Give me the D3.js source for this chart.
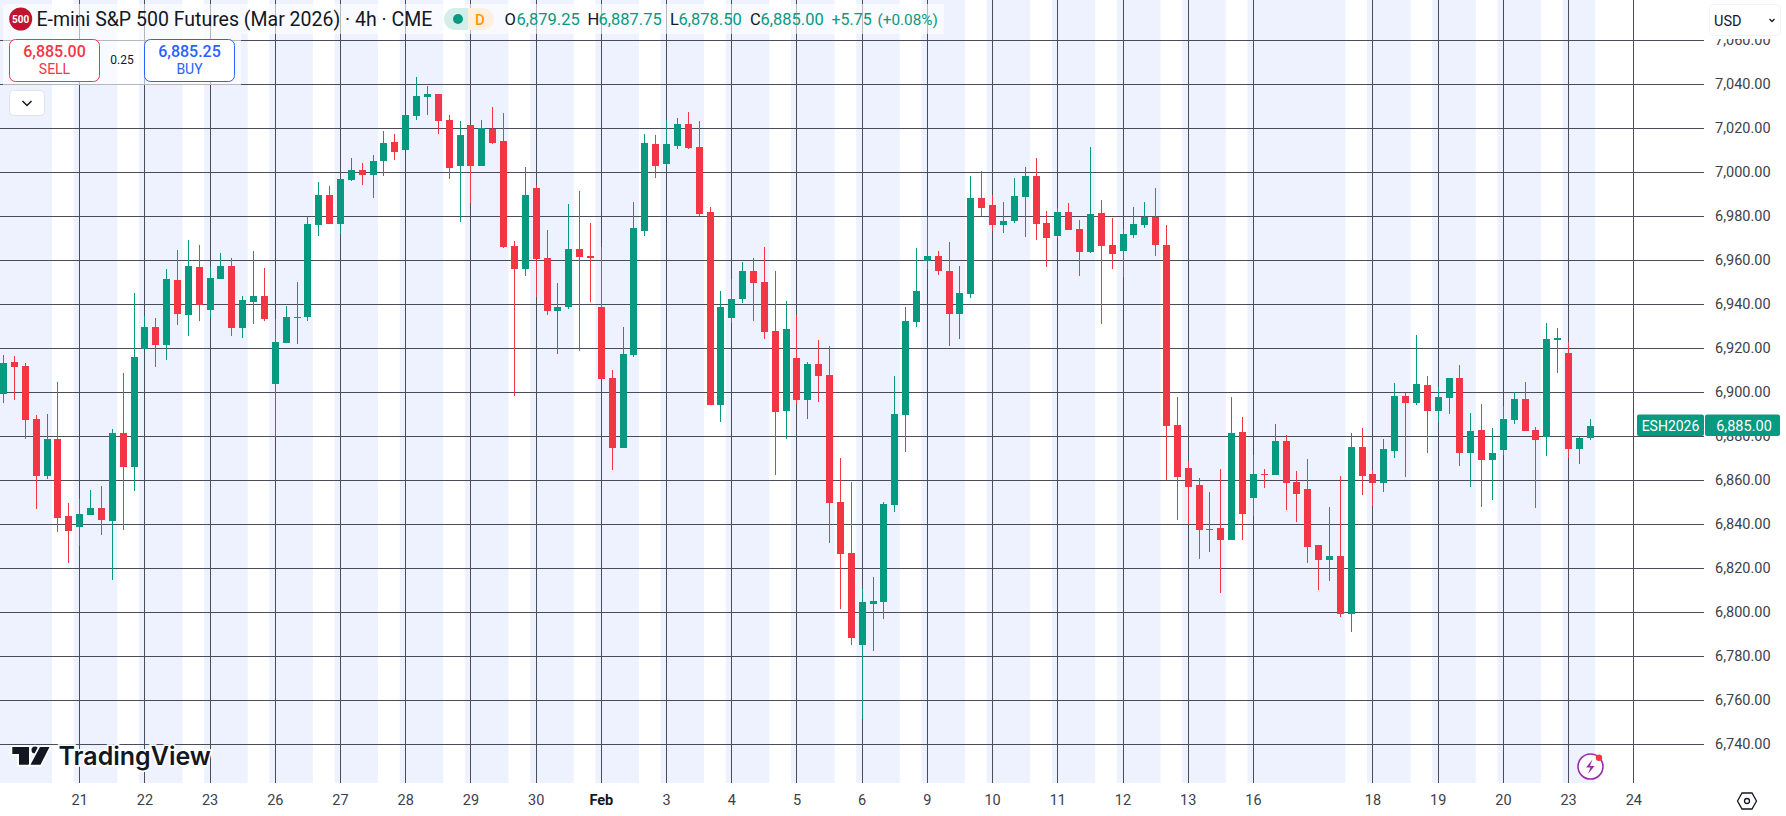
<!DOCTYPE html>
<html>
<head>
<meta charset="utf-8">
<title>ESH2026 4h</title>
<script src="https://cdn.jsdelivr.net/npm/d3@7"></script>
<style>
  html, body { margin: 0; padding: 0; background: #fff; }
  svg { display: block; font-family: Roboto, sans-serif; }
  .price-axis text, .time-axis text { font-size: 14.5px; fill: #3d404a; }
  .time-axis .month text { font-weight: 700; fill: #131722; }
</style>
</head>
<body>
<div id="viz"></div>
<script>
const WIDTH = 1786;
const HEIGHT = 816;

const opens = [6899.25,6913.75,6912,6888,6862,6878.75,6843.75,6838.75,6844.25,6847.5,6841.5,6881.5,6866,6919.75,6929.75,6921.5,6951,6935.25,6957,6937.5,6951.5,6957.5,6929.25,6941,6943.75,6903.75,6922.5,6934,6934.25,6976,6989.75,6976.5,6996.5,7001,6998.75,7005.25,7013.75,7010.25,7025.5,7034.25,7035.5,7023.75,7003,7021.5,7003,7019.75,7014.25,6966.5,6956,6993,6961,6937,6938.75,6965.25,6962,6938.75,6906.5,6874.75,6917,6973.25,7013,7003.75,7012,7022,7011.5,6982,6894.25,6933.75,6942.5,6955.25,6950.25,6928,6891.5,6915.5,6896.5,6913,6908,6850.25,6827,6785.25,6803.75,6804.75,6848.75,6889.75,6932,6959.75,6962,6955.25,6935.5,6944.75,6988.25,6985.25,6976,6977.75,6988.75,6998.25,6977,6971,6982,6974.25,6963.75,6981.5,6967,6964.25,6971.5,6976,6979.75,6967,6885.25,6865.5,6858,6837.5,6838.25,6833,6882,6852,6863,6862.5,6878,6859.25,6856,6830.5,6823.75,6825.5,6799.25,6875.25,6863,6858.75,6873.25,6898.25,6895.25,6903.25,6891.5,6897.5,6906.5,6872.5,6883,6869.25,6873.75,6887.5,6897,6883,6879.75,6923.75,6918,6874.25,6879.25];
const highs = [6917,6916.5,6913.25,6889.75,6890.25,6904.75,6849.75,6851.5,6855.5,6857.5,6883.25,6908.75,6945.25,6934.75,6933.75,6956.25,6964.75,6969.25,6967,6957,6963.25,6961,6943.75,6964.25,6956.5,6933.25,6939.25,6950.25,6980,6995.5,6993.75,6997,7006.5,7004.25,7007.75,7018.75,7017.5,7026,7043.25,7039.25,7035.5,7026,7023.25,7021.5,7023.75,7029.75,7027,6968.75,7002.5,6994.25,6973.75,6949.75,6985.5,6991.5,6977,6966,6910.25,6929.75,6986.5,7017.5,7017,7023.75,7024.75,7027.5,7023.25,6984.25,6946,6951.5,6959.25,6961,6966,6955.25,6941.5,6935.25,6913.75,6923.75,6921,6870.25,6859.25,6810.5,6816,6850.25,6907.5,6938.75,6965.5,6979.75,6964.25,6968.25,6957.5,6998.25,7000.5,6989.75,6986.5,6997.5,7002.5,7006.5,6982.5,6983.75,6986,6978.25,7011.5,6987.5,6979.25,6974.25,6984.25,6986.5,6993,6976,6898,6868.75,6861,6854.75,6865.25,6898,6888.75,6871.5,6865.25,6885.5,6880.5,6864.25,6869.75,6830.5,6848,6862,6881.5,6883.75,6864.75,6878.75,6904.25,6899.75,6926,6907.5,6902.5,6906.5,6912.5,6890.5,6894.75,6883.75,6893.75,6900.25,6904.75,6884.25,6931.5,6929.25,6923,6879.75,6887.75];
const lows = [6895.25,6896.5,6878.75,6847,6860.5,6836.5,6822.5,6830.25,6844.25,6835.25,6815,6837.5,6855.25,6919.75,6911.5,6914.75,6930.5,6925.5,6932.5,6933.75,6951.5,6925.5,6924.75,6931,6932.5,6879.75,6922.5,6922,6932.5,6971,6976.5,6972,6996,6994.25,6988.25,6998.25,7005.5,7010.25,7023.75,7026,7017.5,6997,6977.5,6986,7003,7013,6965.5,6898.25,6953,6943.25,6935.25,6917.5,6938,6918.75,6941,6906,6864.75,6874.75,6916,6971,6997.5,7003,7010.5,7010.5,6980.25,6894.25,6886.5,6931.5,6940.5,6932.5,6924.25,6862.5,6878.75,6895,6888,6895.5,6831.5,6801.5,6785.25,6751.5,6782.5,6797,6845.5,6873,6929.75,6956,6953.5,6921,6924.25,6943,6980.25,6973.25,6972.5,6977,6970.5,6969.25,6957,6970.25,6973.75,6953,6963.25,6931,6956,6952.5,6970.25,6974.75,6962,6860.25,6842,6840.25,6824.25,6827.5,6808.75,6833,6833,6844,6856.5,6862.5,6846.5,6841,6822.5,6810.25,6814.25,6798,6791,6853.25,6848.5,6854.75,6870.25,6861.5,6894.25,6872.5,6886.5,6890.25,6866.5,6857,6848,6851,6871.5,6885.5,6882.5,6847.5,6871,6908.75,6870.25,6867.5,6878.5];
const closes = [6913.25,6911.5,6887.5,6862,6878.75,6843,6837,6844.75,6847.5,6842,6881.5,6866,6916,6929.75,6921.5,6951.5,6935.5,6957.5,6939.75,6952,6957.5,6929.25,6942,6943.75,6933.25,6923,6934.25,6934.5,6976.5,6989.75,6976.5,6997,7001,6998.75,7005.25,7013.25,7009.25,7026,7034.75,7035.5,7023.25,7002,7017,7003,7020.25,7013.25,6966,6956,6989.75,6960.5,6937,6938.75,6965.25,6961.5,6961,6906,6874.75,6917.5,6974.75,7013.25,7003,7013,7022,7011,6981,6894.25,6938.75,6942.5,6955.25,6949.75,6927.5,6891,6928.75,6896.5,6913,6907.5,6849.75,6826.5,6788.25,6804.75,6805.25,6849.25,6890.25,6932.5,6946,6962,6955.25,6935.5,6945.25,6988.25,6983.75,6976,6978,6989.25,6998.25,6976.5,6970.25,6982,6973.75,6963.75,6981,6966.5,6963,6972,6976.5,6979.75,6967,6884.75,6861.5,6857,6837.5,6838,6833,6881.5,6844.75,6863,6862.5,6878,6858.75,6853.75,6829.75,6823.75,6825.5,6799.25,6875.25,6862,6858.75,6874.25,6898.25,6895.25,6903.75,6891.5,6898,6906.5,6872.5,6882.5,6869.25,6872.5,6888,6897,6882.5,6878.25,6924.25,6924.75,6874.25,6879.25,6885];

// day labels and the candle each one sits on (17 Feb falls under the long 16 session)
const dayLabels = ['21','22','23','26','27','28','29','30','Feb','3','4','5','6','9','10','11','12','13','16','18','19','20','23','24'];
const dayBars = [7,13,19,25,31,37,43,49,55,61,67,73,79,85,91,97,103,109,115,126,132,138,144,150];

// first and last candle of each shaded session
const sessionFirst = [-1,7,13,19,25,31,37,43,49,55,61,67,73,79,85,91,97,103,109,115,126,132,138,144];
const sessionLast = [4,10,16,22,28,34,40,46,52,58,64,70,76,82,88,94,100,106,112,123,129,135,141,146];

const priceTicks = [7060,7040,7020,7000,6980,6960,6940,6920,6900,6880,6860,6840,6820,6800,6780,6760,6740];

const lastPrice = 6885;
const legendValues = [
  { key: 'O', value: '6,879.25' },
  { key: 'H', value: '6,887.75' },
  { key: 'L', value: '6,878.50' },
  { key: 'C', value: '6,885.00' }
];

const UP = '#089981';
const DOWN = '#f23645';
const GRID = '#4a4d59';
const BAND = '#eef2fe';
const PLOT_RIGHT = 1704;
const PLOT_BOTTOM = 783;

const svg = d3.select('#viz').append('svg')
  .attr('width', WIDTH)
  .attr('height', HEIGHT);

const x = d3.scaleLinear().domain([0, 150]).range([3.12, 1633.3]);
const y = d3.scaleLinear().domain([6740, 7060]).range([744.5, 40.5]);
const px = i => Math.round(x(i));

// sessions
svg.append('g').selectAll('rect')
  .data(d3.range(sessionFirst.length))
  .join('rect')
  .attr('x', i => Math.max(0, x(sessionFirst[i] - 0.5)))
  .attr('width', i => x(sessionLast[i] + 0.5) - Math.max(0, x(sessionFirst[i] - 0.5)))
  .attr('y', 0)
  .attr('height', PLOT_BOTTOM)
  .attr('fill', BAND);

// grid
const grid = svg.append('g').attr('shape-rendering', 'crispEdges').attr('stroke', GRID);
grid.selectAll('.h').data(priceTicks).join('line')
  .attr('class', 'h')
  .attr('x1', 0).attr('x2', PLOT_RIGHT)
  .attr('y1', d => y(d)).attr('y2', d => y(d));
grid.selectAll('.v').data(dayBars).join('line')
  .attr('class', 'v')
  .attr('x1', d => px(d) + 0.5).attr('x2', d => px(d) + 0.5)
  .attr('y1', 0).attr('y2', PLOT_BOTTOM);

// candles
const candles = svg.append('g').attr('shape-rendering', 'crispEdges');
const candle = candles.selectAll('g').data(opens).join('g')
  .attr('fill', (o, i) => closes[i] >= o ? UP : DOWN);
candle.append('rect')
  .attr('x', (o, i) => px(i))
  .attr('width', 1)
  .attr('y', (o, i) => y(highs[i]))
  .attr('height', (o, i) => y(lows[i]) - y(highs[i]));
candle.append('rect')
  .attr('x', (o, i) => px(i) - 3)
  .attr('width', 7)
  .attr('y', (o, i) => y(Math.max(o, closes[i])))
  .attr('height', (o, i) => Math.max(1, Math.abs(y(o) - y(closes[i]))));

// price axis
const priceAxis = svg.append('g')
  .attr('class', 'price-axis')
  .attr('transform', `translate(${PLOT_RIGHT},0)`)
  .call(d3.axisRight(y).tickValues(priceTicks).tickFormat(d3.format(',.2f')).tickSize(0).tickPadding(11));
priceAxis.select('.domain').remove();
priceAxis.selectAll('text').attr('dy', '0.25em').attr('font-family', 'Roboto, sans-serif');

// time axis
const timeAxis = svg.append('g')
  .attr('class', 'time-axis')
  .attr('transform', `translate(0,${PLOT_BOTTOM})`)
  .call(d3.axisBottom(x).tickValues(dayBars).tickFormat((d, i) => dayLabels[i]).tickSize(0).tickPadding(12));
timeAxis.select('.domain').remove();
timeAxis.selectAll('.tick').classed('month', (d, i) => dayLabels[i] === 'Feb');
timeAxis.selectAll('text').attr('font-family', 'Roboto, sans-serif');

// last price tag
const lastY = y(lastPrice);
svg.append('rect').attr('x', 1637).attr('y', lastY - 11).attr('width', 67).attr('height', 21.5).attr('rx', 2).attr('fill', UP);
svg.append('rect').attr('x', 1705).attr('y', lastY - 11).attr('width', 75).attr('height', 21.5).attr('rx', 2).attr('fill', UP);
svg.append('text').attr('x', 1670.5).attr('y', lastY + 5).attr('text-anchor', 'middle')
  .attr('fill', '#fff').attr('font-size', 14).text('ESH2026');
svg.append('text').attr('x', 1744).attr('y', lastY + 5).attr('text-anchor', 'middle')
  .attr('fill', '#fff').attr('font-size', 14.5).text(d3.format(',.2f')(lastPrice));

// USD button, sits over the top price label
svg.append('rect').attr('x', 1705).attr('y', 0).attr('width', 81).attr('height', 39).attr('fill', '#fff');
svg.append('rect').attr('x', 1709.5).attr('y', 4.5).attr('width', 71).attr('height', 31).attr('rx', 4)
  .attr('fill', '#fff').attr('stroke', '#f0f3fa');
svg.append('text').attr('x', 1714).attr('y', 26).attr('font-size', 14.5).attr('fill', '#131722').text('USD');
svg.append('path').attr('d', 'M1769.5 19l2.5 2.5 2.5-2.5').attr('fill', 'none').attr('stroke', '#131722').attr('stroke-width', 1.3);

// legend backdrop
svg.append('rect').attr('x', 3).attr('y', 4).attr('width', 941).attr('height', 30).attr('fill', '#fff').attr('opacity', 0.6);
svg.append('rect').attr('x', 3).attr('y', 34).attr('width', 238).attr('height', 51).attr('fill', '#fff').attr('opacity', 0.6);

// symbol logo and title
svg.append('circle').attr('cx', 20.7).attr('cy', 19).attr('r', 11.5).attr('fill', '#c2132e');
svg.append('text').attr('x', 20.7).attr('y', 22.5).attr('text-anchor', 'middle')
  .attr('fill', '#fff').attr('font-size', 10).attr('font-weight', 700).text('500');
svg.append('text').attr('x', 36.5).attr('y', 26).attr('font-size', 19.5).attr('fill', '#131722')
  .text('E-mini S&P 500 Futures (Mar 2026) · 4h · CME');

// market status pills
svg.append('path').attr('d', 'M468 8h-13a11 11 0 0 0 0 22h13z').attr('fill', '#d4efea');
svg.append('path').attr('d', 'M468 8h15a11 11 0 0 1 0 22h-15z').attr('fill', '#fdf0e0');
svg.append('circle').attr('cx', 458).attr('cy', 19).attr('r', 5).attr('fill', UP);
svg.append('text').attr('x', 480).attr('y', 25).attr('text-anchor', 'middle')
  .attr('font-size', 15).attr('font-weight', 500).attr('fill', '#ff9800').text('D');

// OHLC readout
const ohlcKeyX = [504.5, 587.5, 670, 750];
const ohlcValueX = [516.5, 598.5, 678.5, 760.5];
legendValues.forEach((d, i) => {
  svg.append('text').attr('x', ohlcKeyX[i]).attr('y', 25).attr('font-size', 16.5).attr('fill', '#131722').text(d.key);
  svg.append('text').attr('x', ohlcValueX[i]).attr('y', 25).attr('font-size', 16.5).attr('fill', UP).text(d.value);
});
svg.append('text').attr('x', 831.5).attr('y', 25).attr('font-size', 16).attr('fill', UP).text('+5.75');
svg.append('text').attr('x', 877.5).attr('y', 25).attr('font-size', 15.3).attr('fill', UP).text('(+0.08%)');

// sell and buy buttons
const orderButtons = [
  { left: 9.5, price: '6,885.00', side: 'SELL', color: DOWN },
  { left: 144.5, price: '6,885.25', side: 'BUY', color: '#2962ff' }
];
orderButtons.forEach(b => {
  svg.append('rect').attr('x', b.left).attr('y', 39.5).attr('width', 90).attr('height', 42).attr('rx', 6)
    .attr('fill', '#fff').attr('stroke', b.color);
  svg.append('text').attr('x', b.left + 45).attr('y', 57).attr('text-anchor', 'middle')
    .attr('font-size', 16).attr('font-weight', 500).attr('fill', b.color).text(b.price);
  svg.append('text').attr('x', b.left + 45).attr('y', 74).attr('text-anchor', 'middle')
    .attr('font-size', 14).attr('fill', b.color).text(b.side);
});
svg.append('text').attr('x', 122).attr('y', 64).attr('text-anchor', 'middle')
  .attr('font-size', 12).attr('fill', '#131722').text('0.25');

// collapse button
svg.append('rect').attr('x', 9.5).attr('y', 90.5).attr('width', 35).attr('height', 25).attr('rx', 4)
  .attr('fill', '#fff').attr('stroke', '#e0e3eb');
svg.append('path').attr('d', 'M22.5 101l4.5 4.5 4.5-4.5').attr('fill', 'none').attr('stroke', '#131722').attr('stroke-width', 1.5);

// TradingView watermark
const mark = svg.append('g').attr('fill', '#131722').attr('stroke', '#fff').attr('stroke-width', 3.5).attr('paint-order', 'stroke');
mark.append('path').attr('d', 'M12.3 747h16.7v17.7h-10v-10.7h-6.7z');
mark.append('circle').attr('cx', 35).attr('cy', 750).attr('r', 3.5);
mark.append('path').attr('d', 'M40 747h9.5l-9 17.7h-10z');
mark.append('text').attr('x', 58.5).attr('y', 765).attr('font-family', 'Inter, sans-serif')
  .attr('font-size', 25).attr('font-weight', 600).text('TradingView');

// ideas badge
svg.append('circle').attr('cx', 1590.5).attr('cy', 766.5).attr('r', 12.5).attr('fill', '#fff').attr('stroke', '#9c27b0').attr('stroke-width', 1.6);
svg.append('path').attr('d', 'M1592.5 759.5l-6.5 8h4.5l-2.5 6.5 6.5-8h-4.5z').attr('fill', '#9c27b0');
svg.append('circle').attr('cx', 1599).attr('cy', 757.7).attr('r', 3.2).attr('fill', DOWN);

// settings icon
svg.append('path').attr('d', 'M1737.5 801l4.5-8h10l4.5 8-4.5 8h-10z').attr('fill', 'none').attr('stroke', '#131722').attr('stroke-width', 1.3);
svg.append('circle').attr('cx', 1747).attr('cy', 801).attr('r', 2.5).attr('fill', 'none').attr('stroke', '#131722').attr('stroke-width', 1.3);
</script>
</body>
</html>
